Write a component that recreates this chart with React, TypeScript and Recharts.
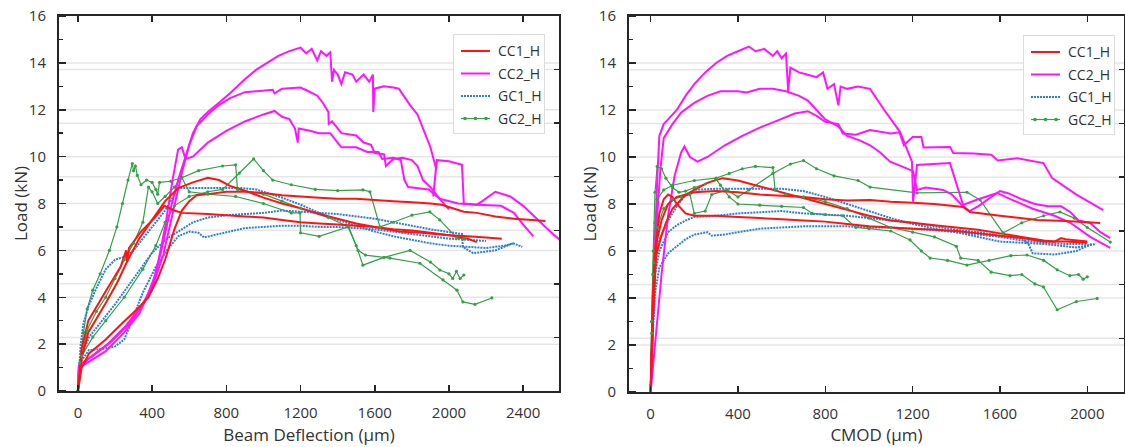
import React from "react";
import { LineChart, Line, XAxis, YAxis, ReferenceLine } from "recharts";

type Pt = [number, number];

// ---- Load vs beam deflection (um, kN) ----
const cc1DeflA: Pt[] = [[0,0],[20,1.0],[60,1.6],[150,2.2],[240,2.9],[320,3.5],[380,4.0],[430,4.8],[470,5.6],[520,6.9],[560,7.7],[600,8.1],[640,8.35],[700,8.4],[800,8.5],[900,8.5],[1000,8.45],[1100,8.35],[1200,8.3],[1300,8.25],[1400,8.2],[1500,8.2],[1600,8.15],[1700,8.1],[1800,8.05],[1900,8.0],[1960,7.95],[2020,7.8],[2080,7.65],[2150,7.6],[2250,7.45],[2350,7.35],[2450,7.3],[2520,7.25]];
const cc1DeflB: Pt[] = [[0,0],[20,1.4],[56,2.5],[146,3.7],[210,4.6],[270,5.6],[330,6.5],[400,7.3],[470,8.1],[540,8.66],[620,8.9],[700,9.1],[760,9.0],[820,8.75],[900,8.55],[1000,8.25],[1100,8.0],[1200,7.8],[1300,7.55],[1400,7.35],[1500,7.15],[1600,7.0],[1735,6.8],[1850,6.75],[2000,6.65],[2100,6.6],[2200,6.55],[2285,6.5]];
const cc1DeflC: Pt[] = [[0,0],[20,1.8],[56,3.0],[146,4.2],[230,5.3],[260,6.0],[265,5.5],[275,6.1],[340,6.8],[415,7.4],[466,7.9],[520,7.7],[560,7.6],[700,7.55],[800,7.5],[900,7.45],[1000,7.4],[1100,7.3],[1200,7.2],[1300,7.15],[1400,7.1],[1500,7.05],[1600,7.0],[1700,6.9],[1800,6.85],[1900,6.75],[2000,6.65],[2100,6.5],[2150,6.35]];
const cc2DeflA: Pt[] = [[0,0],[5,1.0],[50,1.2],[150,1.7],[250,2.5],[330,3.3],[400,4.5],[450,6.0],[500,7.8],[540,9.0],[580,10.0],[620,11.0],[660,11.6],[700,11.9],[760,12.3],[820,12.7],[900,13.3],[960,13.7],[1020,14.0],[1080,14.3],[1140,14.5],[1200,14.65],[1230,14.4],[1260,14.6],[1290,14.1],[1310,14.5],[1340,14.3],[1360,14.45],[1370,13.2],[1380,13.7],[1400,13.5],[1420,13.1],[1440,13.6],[1480,13.5],[1500,13.2],[1540,13.5],[1570,13.2],[1590,13.5],[1592,11.9],[1600,12.9],[1650,13.0],[1700,12.95],[1730,12.9],[1790,12.2],[1830,11.8],[1870,11.0],[1900,10.4],[1930,9.5],[1915,8.3],[1935,9.85],[2000,9.8],[2070,9.65],[2080,8.0],[2150,7.95],[2180,8.1],[2250,8.5],[2330,8.3],[2400,7.9],[2480,7.3],[2560,6.7],[2620,6.3],[2700,5.8]];
const cc2DeflB: Pt[] = [[0,0],[5,0.9],[60,1.4],[160,2.0],[260,2.8],[340,3.6],[400,4.4],[460,5.8],[520,7.9],[560,9.3],[600,10.5],[640,11.3],[700,11.8],[760,12.2],[820,12.5],[900,12.75],[980,12.8],[1050,12.85],[1060,12.7],[1100,12.9],[1200,12.95],[1240,12.8],[1290,12.6],[1320,12.3],[1350,11.9],[1352,11.4],[1370,11.5],[1420,11.0],[1500,10.9],[1540,10.6],[1580,10.5],[1600,10.15],[1650,10.1],[1660,9.6],[1700,9.9],[1750,9.95],[1800,9.85],[1830,9.6],[1860,9.0],[1900,8.7],[1950,8.2],[2000,7.75]];
const cc2DeflC: Pt[] = [[0,0],[5,1.1],[80,1.5],[180,2.1],[280,2.9],[360,3.8],[420,5.0],[470,7.0],[510,9.0],[540,10.3],[560,10.4],[580,9.9],[620,10.0],[700,10.6],[800,11.1],[900,11.5],[1000,11.8],[1060,11.95],[1100,11.7],[1140,11.6],[1170,11.2],[1185,10.6],[1190,11.2],[1250,11.1],[1300,11.0],[1360,11.0],[1400,10.6],[1420,10.4],[1500,10.4],[1560,10.2],[1620,10.2],[1640,9.9],[1700,9.95],[1740,9.85],[1760,9.0],[1780,8.7],[1890,8.6],[1950,8.2],[2050,8.0],[2150,7.95],[2280,7.9],[2350,7.6],[2400,7.1],[2455,6.6]];
const gc1DeflA: Pt[] = [[0,0],[15,2.0],[30,2.9],[56,3.6],[100,4.4],[150,5.2],[200,5.6],[260,5.75],[300,6.0],[400,7.0],[470,7.7],[540,8.66],[700,8.66],[880,8.66],[960,8.6],[1100,8.25],[1200,7.95],[1300,7.6],[1400,7.3],[1500,7.05],[1600,6.8],[1700,6.6],[1800,6.45],[1900,6.3],[2000,6.2],[2100,6.15],[2200,6.1],[2300,6.2],[2345,6.3],[2395,6.15]];
const gc1DeflB: Pt[] = [[0,0],[20,1.5],[60,2.3],[120,2.9],[200,3.7],[300,4.8],[400,5.9],[480,6.5],[560,6.9],[620,7.2],[700,7.4],[800,7.5],[900,7.55],[1000,7.6],[1100,7.7],[1200,7.65],[1300,7.6],[1400,7.55],[1500,7.45],[1600,7.35],[1700,7.2],[1800,7.05],[1900,6.9],[2000,6.78],[2070,6.7],[2075,6.15],[2130,5.88],[2250,6.0],[2345,6.3]];
const gc1DeflC: Pt[] = [[0,0],[20,1.3],[60,1.75],[140,1.8],[200,1.9],[250,2.2],[300,3.2],[350,4.2],[420,5.3],[480,6.0],[540,6.6],[600,6.8],[650,6.75],[680,6.55],[760,6.7],[900,6.95],[1000,7.0],[1100,7.05],[1200,7.05],[1300,7.0],[1400,7.0],[1500,6.95],[1600,6.9],[1700,6.8],[1800,6.7],[1900,6.6],[2000,6.5],[2100,6.45],[2200,6.4]];
const gc2DeflA: Pt[] = [[0,0],[10,1.2],[30,2.5],[50,3.5],[80,4.3],[120,5.0],[170,6.0],[210,7.0],[240,8.0],[270,9.0],[293,9.7],[300,9.4],[310,9.6],[320,9.2],[340,8.8],[370,9.0],[400,8.9],[420,8.6],[430,8.4],[440,8.9],[500,8.95],[560,9.1],[600,8.5],[700,8.4],[850,8.3],[1000,8.0],[1150,7.6],[1197,7.6],[1200,6.75],[1300,6.6],[1456,7.0],[1500,6.2],[1536,5.37],[1650,5.7],[1790,6.0],[1900,5.5],[1951,5.16],[2000,5.0],[2020,4.8],[2040,5.1],[2060,4.8],[2080,4.95]];
const gc2DeflB: Pt[] = [[0,0],[20,1.5],[50,2.6],[100,3.4],[150,4.0],[200,4.8],[250,5.6],[300,6.3],[350,7.2],[380,8.7],[400,8.5],[430,8.0],[470,8.3],[520,8.7],[560,9.1],[650,9.4],[780,9.6],[850,9.65],[860,8.6],[1000,8.4],[1100,8.1],[1200,7.8],[1350,7.4],[1460,7.0],[1510,6.0],[1550,5.8],[1682,5.67],[1843,5.45],[1968,4.74],[2043,4.3],[2075,3.8],[2140,3.7],[2231,3.97]];
const gc2DeflC: Pt[] = [[0,0],[20,1.5],[80,2.3],[150,3.0],[250,4.0],[350,5.2],[420,6.2],[470,7.2],[520,7.9],[600,8.3],[700,8.5],[780,8.6],[870,9.3],[947,9.9],[1000,9.4],[1050,9.0],[1150,8.8],[1280,8.6],[1400,8.55],[1536,8.58],[1574,8.5],[1628,7.0],[1700,7.2],[1800,7.5],[1897,7.64],[1950,7.3],[2043,6.53],[2080,6.5]];

// ---- Load vs CMOD (um, kN) ----
const cc1CmodA: Pt[] = [[0,0],[10,3],[20,5.5],[30,6.5],[50,7.3],[80,8.0],[120,8.3],[200,8.5],[300,8.55],[400,8.5],[500,8.4],[600,8.35],[700,8.3],[800,8.2],[900,8.15],[1005,8.17],[1100,8.1],[1200,8.05],[1300,8.0],[1431,7.87],[1463,7.66],[1600,7.5],[1770,7.32],[1900,7.28],[2059,7.19]];
const cc1CmodB: Pt[] = [[0,0],[10,3],[25,5.8],[45,6.5],[70,7.2],[100,7.8],[150,8.3],[200,8.6],[260,8.9],[330,9.1],[400,9.0],[480,8.8],[560,8.6],[640,8.4],[720,8.2],[800,8.0],[900,7.75],[1000,7.5],[1100,7.3],[1200,7.2],[1300,7.1],[1400,7.0],[1500,6.9],[1600,6.75],[1700,6.6],[1800,6.45],[1850,6.4],[1880,6.55],[1900,6.5],[2000,6.4]];
const cc1CmodC: Pt[] = [[0,0],[10,4],[20,6],[40,7.6],[60,8.2],[80,8.4],[100,8.3],[120,8.0],[160,7.6],[200,7.5],[300,7.5],[400,7.45],[500,7.4],[600,7.35],[700,7.3],[800,7.25],[900,7.15],[1000,7.05],[1100,7.0],[1200,6.95],[1300,6.9],[1400,6.85],[1500,6.75],[1600,6.65],[1700,6.55],[1800,6.4],[1900,6.4],[2000,6.35]];
const cc2CmodA: Pt[] = [[0,0],[10,3],[20,6],[30,9],[40,10.9],[60,11.4],[80,11.6],[120,12.0],[160,12.6],[200,13.1],[250,13.6],[300,14.0],[350,14.3],[400,14.5],[450,14.7],[480,14.5],[520,14.6],[560,14.3],[580,14.5],[600,14.2],[620,14.4],[630,12.8],[640,13.8],[680,13.6],[720,13.5],[760,13.4],[790,13.6],[810,12.9],[840,13.1],[860,12.2],[870,13.0],[900,12.9],[950,13.0],[1005,12.9],[1070,12.0],[1142,11.07],[1197,9.8],[1202,8.1],[1220,9.66],[1371,9.74],[1431,7.96],[1500,8.2],[1587,8.47],[1650,8.2],[1750,7.8],[1850,7.5],[1922,7.2],[2013,6.6],[2105,6.13]];
const cc2CmodB: Pt[] = [[0,0],[15,4],[30,7.5],[45,9.5],[60,10.8],[100,11.4],[140,11.9],[200,12.3],[260,12.6],[320,12.8],[400,12.8],[440,12.75],[500,12.9],[560,12.9],[620,12.8],[680,12.6],[720,12.4],[760,12.0],[800,11.6],[860,11.3],[900,10.9],[960,10.7],[1005,10.5],[1050,10.2],[1097,9.8],[1150,9.6],[1202,9.4],[1220,8.6],[1260,8.7],[1340,8.6],[1380,8.4],[1420,8.0],[1460,7.7],[1500,7.9],[1560,8.3],[1600,8.55],[1640,8.45],[1700,8.2],[1760,8.0],[1820,7.9],[1880,7.9],[1922,7.66],[1960,7.3],[2013,7.19],[2060,6.8],[2105,6.55]];
const cc2CmodC: Pt[] = [[0,0],[20,2],[50,5],[80,7.5],[110,9.2],[140,10.2],[155,10.45],[180,10.0],[215,9.8],[260,10.0],[340,10.5],[420,10.9],[500,11.25],[580,11.55],[660,11.85],[720,11.95],[760,11.75],[800,11.5],[860,11.4],[880,11.0],[940,10.95],[1005,11.15],[1100,11.0],[1140,11.05],[1160,10.5],[1200,10.85],[1240,10.85],[1250,10.4],[1371,10.43],[1386,10.17],[1480,10.15],[1560,10.1],[1590,9.85],[1680,9.95],[1799,9.74],[1839,9.1],[1950,8.4],[2073,7.74]];
const gc1CmodA: Pt[] = [[0,0],[10,3.5],[20,5.5],[40,6.5],[80,7.3],[120,7.9],[160,8.4],[200,8.6],[300,8.65],[400,8.65],[500,8.65],[600,8.65],[700,8.55],[800,8.3],[900,8.0],[1000,7.7],[1100,7.4],[1200,7.15],[1300,6.95],[1400,6.8],[1500,6.6],[1600,6.4],[1700,6.35],[1800,6.3],[1900,6.2],[1950,6.15],[2040,6.3]];
const gc1CmodB: Pt[] = [[0,0],[10,3],[20,5.0],[40,6.0],[80,6.8],[120,7.1],[160,7.3],[200,7.45],[300,7.5],[400,7.6],[500,7.65],[600,7.7],[700,7.6],[800,7.55],[900,7.5],[1000,7.4],[1100,7.3],[1200,7.2],[1300,7.05],[1400,6.9],[1500,6.8],[1600,6.65],[1700,6.55],[1730,6.3],[1750,5.9],[1850,5.85],[1950,6.0],[2020,6.3]];
const gc1CmodC: Pt[] = [[0,0],[10,2.5],[20,4.2],[40,5.3],[80,5.9],[120,6.2],[160,6.5],[200,6.7],[260,6.8],[280,6.65],[340,6.7],[400,6.8],[500,6.95],[600,7.0],[700,7.05],[800,7.05],[900,7.05],[1000,7.0],[1100,7.0],[1200,6.95],[1300,6.9],[1400,6.8],[1500,6.7],[1600,6.6],[1700,6.45],[1800,6.35],[1900,6.3],[2000,6.3]];
const gc2CmodA: Pt[] = [[0,0],[5,3],[12,6],[20,8.5],[30,9.6],[50,9.5],[70,9.1],[100,8.7],[130,8.5],[160,8.55],[200,8.7],[250,8.85],[300,9.05],[320,8.8],[360,8.3],[400,8.0],[500,7.95],[600,7.9],[700,7.85],[740,7.6],[800,7.55],[880,7.5],[940,7.0],[1000,6.95],[1100,6.85],[1188,6.47],[1240,6.0],[1280,5.7],[1360,5.6],[1449,5.4],[1550,5.6],[1650,5.8],[1724,5.83],[1800,5.6],[1862,5.2],[1920,4.95],[1960,5.0],[1981,4.8],[2000,4.9]];
const gc2CmodB: Pt[] = [[0,0],[5,2.5],[10,5],[20,7.2],[30,8.2],[60,8.6],[100,8.8],[200,9.0],[300,9.1],[360,9.3],[420,9.5],[480,9.6],[560,9.55],[570,8.6],[620,8.4],[700,8.3],[800,8.1],[900,7.8],[1000,7.4],[1100,7.0],[1200,6.8],[1300,6.6],[1400,6.2],[1420,5.7],[1500,5.6],[1560,5.1],[1646,4.95],[1700,5.0],[1760,4.6],[1799,4.47],[1862,3.5],[1950,3.85],[2045,3.98]];
const gc2CmodC: Pt[] = [[0,0],[5,3],[15,5.5],[30,7],[60,7.8],[100,8.2],[140,8.3],[180,8.4],[200,7.6],[250,7.7],[280,8.4],[350,8.6],[400,8.3],[450,8.6],[560,9.3],[640,9.7],[700,9.85],[760,9.5],[840,9.2],[950,9.0],[1005,8.72],[1220,8.47],[1449,8.5],[1509,8.17],[1614,6.77],[1700,7.2],[1800,7.5],[1875,7.66],[1940,7.4],[2000,7.0],[2105,6.38]];

const deflTicks = [0, 400, 800, 1200, 1600, 2000, 2400];
const cmodTicks = [0, 400, 800, 1200, 1600, 2000];
const loadLabels = [0, 2, 4, 6, 8, 10, 12, 14, 16];
const loadMinor = [1, 3, 5, 7, 9, 11, 13, 15];
const rightTicks = [16 / 7, 32 / 7, 48 / 7, 64 / 7, 80 / 7, 96 / 7];
const gridLoads = [2, 4, 6, 8, 10, 12, 14, ...rightTicks];

const seriesNames = ["CC1_H", "CC2_H", "GC1_H", "GC2_H"];

const FONT = "'Open Sans', sans-serif";
const Y_MAX = 16;

const seriesStyle: Record<string, { color: string; width: number; dash?: string; dots?: boolean }> = {
  CC1_H: { color: "#ff1414", width: 2 },
  CC2_H: { color: "#ff14ff", width: 2 },
  GC1_H: { color: "#2f7fd8", width: 2, dash: "2 1" },
  GC2_H: { color: "#34a047", width: 1.2, dots: true },
};

const toRows = (pts: Pt[]) => pts.map(([x, y]) => ({ x, y }));

function LegendBox({ left, top }: { left: number; top: number }) {
  return (
    <div
      style={{
        position: "absolute",
        left,
        top,
        width: 92,
        height: 100,
        background: "#fff",
        border: "1px solid #dcdcdc",
        boxSizing: "border-box",
      }}
    >
      <svg width={92} height={100} style={{ position: "absolute", left: 0, top: 0 }}>
        {seriesNames.map((name, i) => {
          const s = seriesStyle[name];
          const cy = 16 + i * 22.5;
          return (
            <g key={name}>
              <line x1={7} x2={36} y1={cy} y2={cy} stroke={s.color} strokeWidth={s.width} strokeDasharray={s.dash} />
              {s.dots && [11, 21.5, 32].map((cx) => <circle key={cx} cx={cx} cy={cy} r={1.8} fill={s.color} />)}
              <text x={44} y={cy} dy={5} fontSize={14} fontFamily={FONT} fill="#333">
                {name}
              </text>
            </g>
          );
        })}
      </svg>
    </div>
  );
}

type Curve = { name: string; pts: Pt[] };

const CHART_W = 560;
const CHART_H = 447;
const TOP = 16;
const RIGHT = 1;
const INK = "#262626";

// Plot frame with inward ticks, as html boxes laid over the panel on the axes' linear mapping.
function Frame(props: { offsetX: number; xDomain: [number, number]; xTicks: number[]; yWidth: number; xHeight: number }) {
  const { offsetX, xDomain, xTicks, yWidth, xHeight } = props;
  const [x0, x1] = xDomain;
  const left = offsetX + yWidth;
  const right = offsetX + CHART_W - RIGHT;
  const bottom = CHART_H - xHeight;
  const px = (v: number) => left + ((v - x0) / (x1 - x0)) * (right - left);
  const py = (v: number) => bottom - (v / Y_MAX) * (bottom - TOP);
  const bar = (key: string, l: number, t: number, w: number, h: number) => (
    <div key={key} style={{ position: "absolute", left: l, top: t, width: w, height: h, background: INK }} />
  );
  return (
    <>
      <div
        style={{
          position: "absolute",
          left: left - 1,
          top: TOP - 1,
          width: right - left,
          height: bottom - TOP,
          border: `2px solid ${INK}`,
          boxSizing: "content-box",
          marginLeft: -1,
          marginTop: -1,
        }}
      />
      {xTicks.map((t) => bar("xb" + t, px(t) - 0.75, bottom - 6, 1.5, 6))}
      {xTicks.map((t) => bar("xt" + t, px(t) - 0.75, TOP, 1.5, 6))}
      {loadLabels.map((v) => bar("l" + v, left, py(v) - 0.75, 7, 1.5))}
      {loadMinor.map((v) => bar("m" + v, left, py(v) - 0.75, 4, 1.5))}
      {rightTicks.map((v) => bar("r" + v, right - 5, py(v) - 0.75, 5, 1.5))}
    </>
  );
}

function LoadPanel(props: {
  curves: Curve[];
  xDomain: [number, number];
  xTicks: number[];
  xLabel: string;
  yWidth: number;
  xHeight: number;
  labelDx: number;
}) {
  const { curves, xDomain, xTicks, xLabel, yWidth, xHeight, labelDx } = props;
  return (
    <LineChart width={CHART_W} height={CHART_H} margin={{ top: TOP, right: RIGHT, bottom: 0, left: 0 }}>
      <XAxis
        type="number"
        dataKey="x"
        domain={xDomain}
        allowDataOverflow
        ticks={xTicks}
        interval={0}
        height={xHeight}
        axisLine={false}
        tickLine={false}
        tickMargin={10}
        tick={{ fontSize: 15, fontFamily: FONT, fill: "#333" }}
        label={{ value: xLabel, position: "insideBottom", offset: 6, fontSize: 17, fontFamily: FONT, fill: "#333" }}
      />
      <YAxis
        type="number"
        domain={[0, Y_MAX]}
        allowDataOverflow
        ticks={loadLabels}
        interval={0}
        width={yWidth}
        axisLine={false}
        tickLine={false}
        tickMargin={7}
        tick={{ fontSize: 15, fontFamily: FONT, fill: "#333" }}
        label={{ value: "Load (kN)", angle: -90, position: "center", dx: labelDx, fontSize: 17, fontFamily: FONT, fill: "#333" }}
      />
      {gridLoads.map((v) => (
        <ReferenceLine key={"g" + v} y={v} stroke="#e6e6e6" strokeWidth={1.5} />
      ))}
      {curves.map((c, i) => {
        const s = seriesStyle[c.name];
        return (
          <Line
            key={"c" + i}
            data={toRows(c.pts)}
            dataKey="y"
            name={c.name}
            type="linear"
            stroke={s.color}
            strokeWidth={s.width}
            strokeDasharray={s.dash}
            dot={s.dots ? { r: 1.6, fill: s.color, stroke: "none" } : false}
            activeDot={false}
            isAnimationActive={false}
          />
        );
      })}
    </LineChart>
  );
}

const deflCurves: Curve[] = [
  { name: "GC2_H", pts: gc2DeflA }, { name: "GC2_H", pts: gc2DeflB }, { name: "GC2_H", pts: gc2DeflC },
  { name: "GC1_H", pts: gc1DeflA }, { name: "GC1_H", pts: gc1DeflB }, { name: "GC1_H", pts: gc1DeflC },
  { name: "CC2_H", pts: cc2DeflA }, { name: "CC2_H", pts: cc2DeflB }, { name: "CC2_H", pts: cc2DeflC },
  { name: "CC1_H", pts: cc1DeflA }, { name: "CC1_H", pts: cc1DeflB }, { name: "CC1_H", pts: cc1DeflC },
];

const cmodCurves: Curve[] = [
  { name: "GC2_H", pts: gc2CmodA }, { name: "GC2_H", pts: gc2CmodB }, { name: "GC2_H", pts: gc2CmodC },
  { name: "GC1_H", pts: gc1CmodA }, { name: "GC1_H", pts: gc1CmodB }, { name: "GC1_H", pts: gc1CmodC },
  { name: "CC2_H", pts: cc2CmodA }, { name: "CC2_H", pts: cc2CmodB }, { name: "CC2_H", pts: cc2CmodC },
  { name: "CC1_H", pts: cc1CmodA }, { name: "CC1_H", pts: cc1CmodB }, { name: "CC1_H", pts: cc1CmodC },
];

export default function App() {
  return (
    <div style={{ position: "absolute", left: 0, top: 0, width: 1125, height: 447, background: "#fff" }}>
      <div style={{ position: "absolute", left: 0, top: 0 }}>
        <LoadPanel curves={deflCurves} xDomain={[-102, 2593]} xTicks={deflTicks} xLabel="Beam Deflection (μm)" yWidth={59} xHeight={56} labelDx={-9} />
      </div>
      <div style={{ position: "absolute", left: 565, top: 0 }}>
        <LoadPanel curves={cmodCurves} xDomain={[-99, 2168]} xTicks={cmodTicks} xLabel="CMOD (μm)" yWidth={64} xHeight={55} labelDx={-7} />
      </div>
      <Frame offsetX={0} xDomain={[-102, 2593]} xTicks={deflTicks} yWidth={59} xHeight={56} />
      <Frame offsetX={565} xDomain={[-99, 2168]} xTicks={cmodTicks} yWidth={64} xHeight={55} />
      <LegendBox left={453} top={34} />
      <LegendBox left={1023} top={35} />
    </div>
  );
}
